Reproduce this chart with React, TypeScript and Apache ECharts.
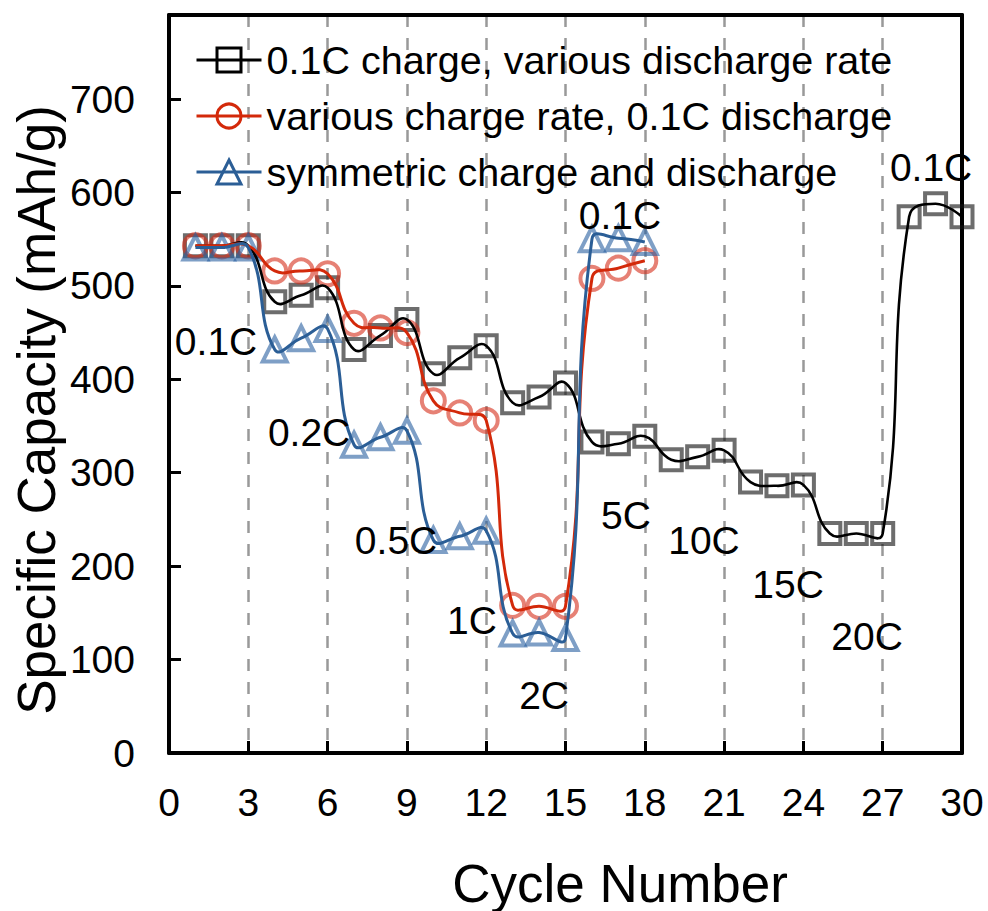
import React, { useEffect, useRef } from 'react';
import * as echarts from 'echarts';

const FONT = '"Liberation Sans", Arial, sans-serif';

const cycles30 = [1, 2, 3, 4, 5, 6, 7, 8, 9, 10, 11, 12, 13, 14, 15, 16, 17, 18, 19, 20, 21, 22, 23, 24, 25, 26, 27, 28, 29, 30];
const cycles18 = [1, 2, 3, 4, 5, 6, 7, 8, 9, 10, 11, 12, 13, 14, 15, 16, 17, 18];

const seriesNames = [
  '0.1C charge, various discharge rate',
  'various charge rate, 0.1C discharge',
  'symmetric charge and discharge',
];

const chargeFixed = [543, 543, 543, 483, 490, 498, 432, 447, 464, 406, 423, 436, 375, 381, 396, 333, 331, 339, 314, 317, 324, 290, 286, 287, 235, 235, 235, 574, 588, 574];
const dischargeFixed = [543, 543, 543, 516, 516, 513, 460, 455, 450, 377, 364, 356, 158, 157, 157, 508, 519, 527];
const symmetric = [541, 541, 541, 432, 444, 454, 330, 338, 345, 228, 232, 238, 128, 129, 123, 550, 551, 547];

const rateLabels = ['0.1C', '0.2C', '0.5C', '1C', '2C', '5C', '10C', '15C', '20C', '0.1C', '0.1C'];
const rateLabelX = [1.78, 5.3, 8.59, 11.46, 14.19, 17.29, 20.24, 23.42, 26.41, 17.06, 28.83];
const rateLabelY = [441, 343, 227, 142, 62, 254, 228, 180, 125, 575, 627];

const lineColors = ['#000000', '#d3290a', '#2b5e96'];
const lineWidths = [2.6, 3, 3];
const markerColors = ['rgba(20,20,20,0.62)', 'rgba(214,45,25,0.6)', 'rgba(40,95,160,0.6)'];
const symbols = ['rect', 'circle', 'triangle'];
const symbolSizes = [21, 23, 24];

export default function App() {
  const ref = useRef<HTMLDivElement>(null);

  useEffect(() => {
    if (!ref.current) return;
    const chart = echarts.init(ref.current, undefined, { renderer: 'svg' });

    const datasets = [
      cycles30.map((c, i) => [c, chargeFixed[i]]),
      cycles18.map((c, i) => [c, dischargeFixed[i]]),
      cycles18.map((c, i) => [c, symmetric[i]]),
    ];

    const series: any[] = [];
    // legend carriers (line series, invisible line)
    datasets.forEach((d, k) => {
      series.push({
        name: seriesNames[k],
        type: 'line',
        data: d,
        symbol: symbols[k],
        showSymbol: false,
        lineStyle: { color: lineColors[k], width: lineWidths[k], opacity: 0 },
        itemStyle: { color: lineColors[k] },
        silent: true,
        z: 1,
      });
    });
    // markers
    datasets.forEach((d, k) => {
      series.push({
        name: seriesNames[k],
        type: 'scatter',
        data: d,
        symbol: symbols[k],
        symbolSize: symbolSizes[k],
        itemStyle: { color: 'rgba(0,0,0,0)', borderColor: markerColors[k], borderWidth: 4, opacity: 1 },
        silent: true,
        z: 2,
      });
    });
    // spline curves drawn on top of markers
    datasets.forEach((d, k) => {
      series.push({
        name: seriesNames[k],
        type: 'custom',
        data: d,
        silent: true,
        z: 4,
        renderItem: (params: any, api: any) => {
          if (params.dataIndex !== 0) return null;
          const pts = d.map((p) => api.coord(p));
          return {
            type: 'polyline',
            shape: { points: pts, smooth: 0.45 },
            style: { stroke: lineColors[k], lineWidth: lineWidths[k], fill: null },
          };
        },
      });
    });
    series.push({
      name: 'rates',
      type: 'scatter',
      data: rateLabels.map((t, i) => [rateLabelX[i], rateLabelY[i], t]),
      symbolSize: 0,
      itemStyle: { color: 'rgba(0,0,0,0)', opacity: 1 },
      silent: true,
      z: 6,
      label: {
        show: true,
        position: 'inside',
        formatter: (p: any) => p.data[2],
        fontSize: 39,
        fontFamily: FONT,
        color: '#000',
        opacity: 1,
      },
    });

    const frameAxis = {
      axisLine: { show: true, onZero: false, lineStyle: { color: '#000', width: 4 } },
      axisTick: { show: false },
      axisLabel: { show: false },
      splitLine: { show: false },
    };

    chart.setOption({
      animation: false,
      backgroundColor: '#fff',
      grid: {
        left: 169,
        right: 26,
        top: 15,
        bottom: 158,
        show: false,
      },
      legend: {
        orient: 'vertical',
        left: 195,
        top: 40,
        padding: 0,
        itemWidth: 65,
        itemHeight: 30,
        itemGap: 16,
        textStyle: { fontSize: 39.5, fontFamily: FONT, color: '#000', lineHeight: 40 },
        data: seriesNames.map((n, k) => ({
          name: n,
          itemStyle: { color: 'rgba(0,0,0,0)', borderColor: lineColors[k], borderWidth: 3, opacity: 1 },
          lineStyle: { color: lineColors[k], width: 3, opacity: 1 },
        })),
      },
      xAxis: [
        {
          type: 'value',
          min: 0,
          max: 30,
          interval: 3,
          axisLine: { show: true, onZero: false, lineStyle: { color: '#000', width: 4 } },
          axisTick: { show: true, inside: true, length: 12, lineStyle: { color: '#000', width: 3 } },
          axisLabel: { fontSize: 39, fontFamily: FONT, color: '#000', margin: 30 },
          splitLine: { show: true, lineStyle: { color: '#999', width: 2.5, type: [12, 11] } },
        },
        { type: 'value', position: 'top', min: 0, max: 30, ...frameAxis },
      ],
      yAxis: [
        {
          type: 'value',
          min: 0,
          max: 790,
          interval: 100,
          axisLine: { show: true, onZero: false, lineStyle: { color: '#000', width: 4 } },
          axisTick: { show: true, inside: true, length: 12, lineStyle: { color: '#000', width: 3 } },
          axisLabel: { fontSize: 39, fontFamily: FONT, color: '#000', margin: 34, showMaxLabel: false },
          splitLine: { show: false },
        },
        { type: 'value', position: 'right', min: 0, max: 790, ...frameAxis },
      ],
      graphic: [
        {
          type: 'text',
          x: 36,
          y: 410,
          rotation: Math.PI / 2,
          style: {
            text: 'Specific Capacity (mAh/g)',
            fontSize: 53,
            fontFamily: FONT,
            fill: '#000',
            align: 'center',
            verticalAlign: 'middle',
            textAlign: 'center',
            textVerticalAlign: 'middle',
          },
        },
        {
          type: 'text',
          x: 620,
          y: 883,
          style: {
            text: 'Cycle Number',
            fontSize: 53,
            fontFamily: FONT,
            fill: '#000',
            align: 'center',
            verticalAlign: 'middle',
            textAlign: 'center',
            textVerticalAlign: 'middle',
          },
        },
      ],
      series,
    });

    return () => chart.dispose();
  }, []);

  return (
    <div
      ref={ref}
      style={{ position: 'absolute', left: 0, top: 0, width: 988, height: 911 }}
    />
  );
}
